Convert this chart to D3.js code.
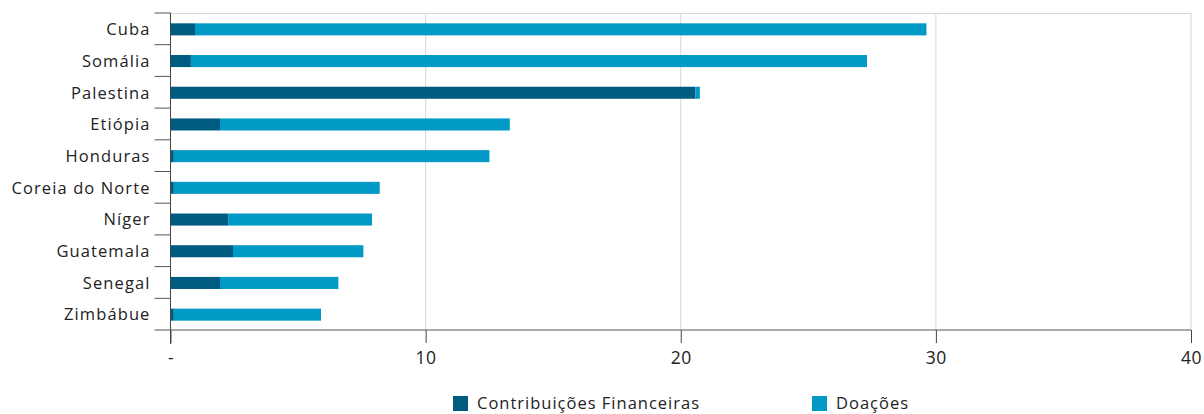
<!DOCTYPE html>
<html>
<head>
<meta charset="utf-8">
<script src="https://cdn.jsdelivr.net/npm/d3@7"></script>
<style>
  body { margin: 0; background: #fff; }
  svg { font-family: "Open Sans", "Noto Sans", sans-serif; }
</style>
</head>
<body>
<figure id="bar-chart" style="margin:0"></figure>
<script>
const categories = ['Cuba', 'Somália', 'Palestina', 'Etiópia', 'Honduras', 'Coreia do Norte', 'Níger', 'Guatemala', 'Senegal', 'Zimbábue'];
const financeiras = [0.96, 0.8, 20.57, 1.94, 0.13, 0.13, 2.26, 2.45, 1.94, 0.13];
const doacoes = [28.67, 26.5, 0.18, 11.36, 12.37, 8.07, 5.64, 5.11, 4.64, 5.77];
const xTicks = [0, 10, 20, 30, 40];
const seriesNames = ['Contribuições Financeiras', 'Doações'];
const colorList = ['#005b80', '#0199c6'];

const width = 1204;
const height = 414;
const plotLeft = 170.5, plotRight = 1191, plotTop = 13, plotBottom = 330;

const svg = d3.select('figure#bar-chart')
  .append('svg')
  .attr('width', width)
  .attr('height', height);

const xScale = d3.scaleLinear().domain([0, 40]).range([plotLeft, plotRight]);
const yScale = d3.scaleBand()
  .domain(categories)
  .range([plotTop, plotBottom])
  .paddingInner(0.62)
  .paddingOuter(0.31);

// grid lines
svg.append('g')
  .selectAll('line')
  .data(xTicks.slice(1))
  .join('line')
  .attr('x1', d => xScale(d)).attr('x2', d => xScale(d))
  .attr('y1', plotTop).attr('y2', plotBottom)
  .attr('stroke', '#d6d6d6');

svg.append('line')
  .attr('x1', plotLeft).attr('x2', plotRight)
  .attr('y1', plotTop + 0.5).attr('y2', plotTop + 0.5)
  .attr('stroke', '#d6d6d6');

// stacked bars
const rows = categories.map((c, i) => ({ name: c, values: [financeiras[i], doacoes[i]] }));
const stack = d3.stack().keys([0, 1]).value((d, k) => d.values[k]);
const stacked = stack(rows);

svg.append('g')
  .selectAll('g')
  .data(stacked)
  .join('g')
  .attr('fill', (d, i) => colorList[i])
  .selectAll('rect')
  .data(d => d)
  .join('rect')
  .attr('x', d => xScale(d[0]))
  .attr('width', d => xScale(d[1]) - xScale(d[0]))
  .attr('y', d => yScale(d.data.name) + 0.5)
  .attr('height', yScale.bandwidth());

// y axis: labels + separators
const step = yScale.step();
const separators = d3.range(categories.length).map(i => plotTop + i * step);
svg.append('g')
  .selectAll('line')
  .data(separators)
  .join('line')
  .attr('x1', plotLeft - 16).attr('x2', plotLeft)
  .attr('y1', d => d).attr('y2', d => d)
  .attr('stroke', '#555');

svg.append('g')
  .selectAll('text')
  .data(categories)
  .join('text')
  .attr('x', plotLeft - 20)
  .attr('y', d => yScale(d) + yScale.bandwidth() / 2 + 0.5)
  .attr('dy', '0.35em')
  .attr('text-anchor', 'end')
  .attr('fill', '#222')
  .style('font-size', '16.5px')
  .style('letter-spacing', '1.1px')
  .text(d => d);

svg.append('line')
  .attr('x1', plotLeft).attr('x2', plotLeft)
  .attr('y1', plotTop).attr('y2', plotBottom + 14)
  .attr('stroke', '#444');

// x axis
svg.append('g')
  .attr('transform', 'translate(0,' + plotBottom + ')')
  .call(d3.axisBottom(xScale)
    .tickValues(xTicks)
    .tickSize(13)
    .tickSizeOuter(0)
    .tickPadding(9)
    .tickFormat(d => d === 0 ? '-' : d))
  .call(g => g.select('.domain').remove())
  .call(g => g.selectAll('.tick line').attr('stroke', '#444'))
  .call(g => g.selectAll('.tick text')
    .attr('fill', '#222')
    .style('font-size', '17.5px')
    .style('letter-spacing', '0.6px')
    .style('font-family', '"Open Sans", "Noto Sans", sans-serif'));

svg.append('line')
  .attr('x1', plotLeft - 16).attr('x2', plotRight)
  .attr('y1', plotBottom).attr('y2', plotBottom)
  .attr('stroke', '#555');

// legend
const legendX = [453, 812];
const legend = svg.append('g')
  .selectAll('g')
  .data(seriesNames)
  .join('g')
  .attr('transform', (d, i) => 'translate(' + legendX[i] + ',396)');

legend.append('rect')
  .attr('width', 15).attr('height', 15)
  .attr('fill', (d, i) => colorList[i]);

legend.append('text')
  .attr('x', 24)
  .attr('y', 7)
  .attr('dy', '0.35em')
  .attr('fill', '#222')
  .style('font-size', '16.5px')
  .style('letter-spacing', '1px')
  .text(d => d);
</script>
</body>
</html>
